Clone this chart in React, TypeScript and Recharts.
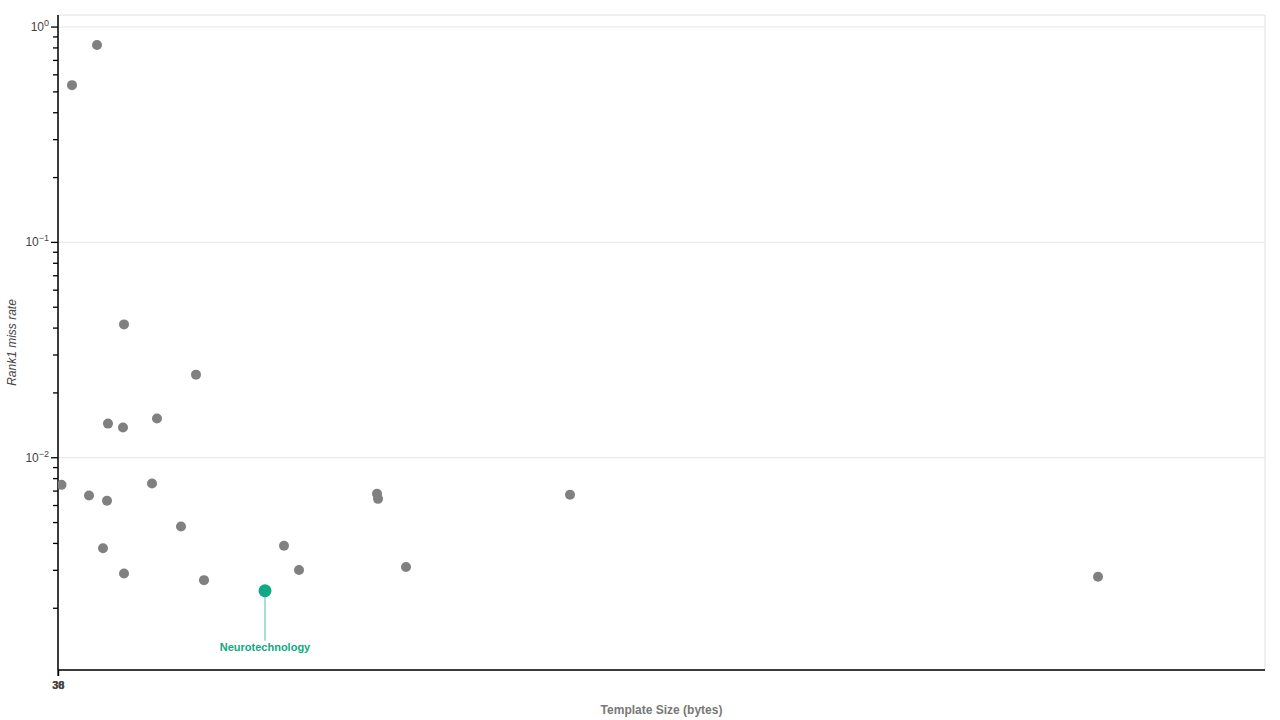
import { ScatterChart, Scatter, XAxis, YAxis, ReferenceLine, ReferenceArea } from 'recharts'

// template size (bytes) and rank-1 miss rate of every algorithm
const sizes = [28, 78, 132, 276, 100, 130, 198, 7, 62, 98, 188, 246, 90, 132, 292, 452, 482, 638, 640, 696, 1024, 2080]
const missRates = [0.537, 0.825, 0.0416, 0.0243, 0.0144, 0.0138, 0.0152, 0.00748, 0.00668, 0.00631, 0.00759, 0.00479, 0.0038, 0.0029, 0.0027, 0.0039, 0.00301, 0.0068, 0.00644, 0.00311, 0.00673, 0.0028]

const highlightName = 'Neurotechnology'
const highlightSize = [414]
const highlightRate = [0.00241]

const xDomain = [0, 2414]
const yDomain = [0.001033, 1.137]
const xTicks = [0, 1]
const xTickLabels = ['30', '38']
const majorTicks = [1, 0.1, 0.01]
const majorExponents = ['0', '−1', '−2']
const minorFactors = [2, 3, 4, 5, 6, 7, 8, 9]

const points = sizes.map((s, i) => ({ size: s, rate: missRates[i] }))
const highlight = highlightSize.map((s, i) => ({ size: s, rate: highlightRate[i] }))

const yTicks = [
  ...majorTicks,
  ...[0.1, 0.01, 0.001].flatMap((base) => minorFactors.map((f) => +(base * f).toPrecision(3))),
]

const font = '"Liberation Sans", Arial, sans-serif'
const axisX = 58

function YTick(props: any) {
  const { y, payload } = props
  const idx = majorTicks.indexOf(payload.value)
  const major = idx >= 0
  return (
    <g>
      <rect x={axisX - (major ? 7 : 5)} y={y - 0.6} width={major ? 7 : 5} height={1.3} fill="#000" />
      {major && (
        <text x={axisX - 9} y={y + 4} textAnchor="end" fontSize={12} fill="#444" fontFamily={font}>
          10
          <tspan dy={-5} fontSize={9}>{majorExponents[idx]}</tspan>
        </text>
      )}
    </g>
  )
}

function XTick(props: any) {
  const { x, payload } = props
  const idx = xTicks.indexOf(payload.value)
  return (
    <g>
      <rect x={x - 0.6} y={670} width={1.3} height={6} fill="#000" />
      <text x={x} y={689} textAnchor="middle" fontSize={11} fontWeight="bold" fill="#444" fontFamily={font}>
        {xTickLabels[idx]}
      </text>
    </g>
  )
}

function HighlightShape(props: any) {
  const { cx, cy } = props
  return (
    <g>
      <line x1={cx} x2={cx} y1={cy + 6} y2={cy + 50} stroke="#4fc1a4" strokeWidth={1} />
      <circle cx={cx} cy={cy} r={6.5} fill="#10a982" />
      <text x={cx} y={cy + 60} textAnchor="middle" fontSize={11} fontWeight="bold" fill="#10a982" fontFamily={font}>
        {highlightName}
      </text>
    </g>
  )
}

export default function App() {
  return (
    <div style={{ position: 'absolute', left: 0, top: 0, width: 1280, height: 720, background: '#fff' }}>
      <ScatterChart width={1280} height={720} margin={{ top: 15, right: 15, bottom: 20, left: 0 }}>
        <ReferenceArea x1={xDomain[0]} x2={xDomain[1]} y1={yDomain[0]} y2={yDomain[1]} fill="none" stroke="#e0e0e0" ifOverflow="visible" />
        {majorTicks.map((t) => (
          <ReferenceLine key={t} y={t} stroke="#e6e6e6" />
        ))}
        <XAxis
          type="number"
          dataKey="size"
          domain={xDomain}
          ticks={xTicks}
          tick={<XTick />}
          tickLine={false}
          axisLine={{ stroke: '#000', strokeWidth: 1.5 }}
          height={30}
          allowDataOverflow
          interval={0}
          label={{
            value: 'Template Size (bytes)',
            position: 'insideBottom',
            offset: -14,
            fontSize: 12,
            fontWeight: 'bold',
            fill: '#777',
            fontFamily: font,
          }}
        />
        <YAxis
          type="number"
          dataKey="rate"
          scale="log"
          domain={yDomain}
          ticks={yTicks}
          tick={<YTick />}
          tickLine={false}
          axisLine={{ stroke: '#000', strokeWidth: 1.5 }}
          width={58}
          allowDataOverflow
          interval={0}
          label={{
            value: 'Rank1 miss rate',
            angle: -90,
            position: 'insideLeft',
            offset: 12,
            fontSize: 12,
            fontStyle: 'italic',
            fill: '#444',
            fontFamily: font,
            style: { textAnchor: 'middle' },
          }}
        />
        <Scatter data={points} fill="#808080" shape={(p: any) => <circle cx={p.cx} cy={p.cy} r={5} fill="#808080" />} isAnimationActive={false} />
        <Scatter data={highlight} fill="#10a982" shape={<HighlightShape />} isAnimationActive={false} />
      </ScatterChart>
    </div>
  )
}
